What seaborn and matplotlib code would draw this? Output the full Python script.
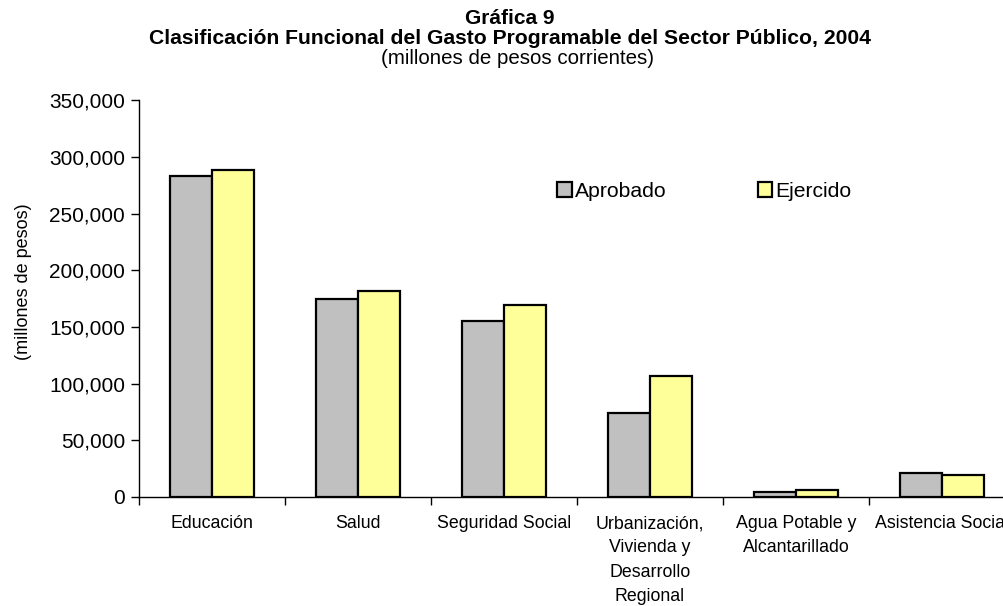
import pandas as pd
import matplotlib
matplotlib.use("Agg")
import matplotlib.pyplot as plt
from matplotlib.ticker import FuncFormatter, FixedLocator
import seaborn as sns

# Data (millones de pesos)
categorias = ["Educación", "Salud", "Seguridad Social",
              "Urbanización,\nVivienda y\nDesarrollo\nRegional",
              "Agua Potable y\nAlcantarillado", "Asistencia Social"]
aprobado = [283000, 175000, 155000, 74000, 4400, 21000]
ejercido = [288500, 182000, 169000, 106500, 6200, 19800]
series = ["Aprobado", "Ejercido"]
y_ticks = [0, 50000, 100000, 150000, 200000, 250000, 300000, 350000]

df = pd.DataFrame({
    "categoria": categorias * 2,
    "serie": [series[0]] * len(categorias) + [series[1]] * len(categorias),
    "monto": aprobado + ejercido,
})

sns.set_theme(style="white", rc={"text.color": "black", "xtick.color": "black",
                                 "ytick.color": "black", "axes.labelcolor": "black"})
plt.rcParams["font.family"] = ["Liberation Sans", "DejaVu Sans"]

fig = plt.figure(figsize=(10.04, 6.06), dpi=100)
ax = fig.add_axes([0.1384, 0.1799, 0.8725, 0.6546])

sns.barplot(data=df, x="categoria", y="monto", hue="serie", order=categorias,
            hue_order=series, palette=["#C0C0C0", "#FFFF99"], width=0.575,
            edgecolor="black", linewidth=1.6, saturation=1, ax=ax)

ax.set_xlim(-0.5, len(categorias) - 0.5)
ax.set_ylim(0, 350000)
ax.yaxis.set_major_locator(FixedLocator(y_ticks))
ax.yaxis.set_major_formatter(FuncFormatter(lambda v, p: f"{v:,.0f}"))
ax.tick_params(axis="y", labelsize=15, length=6, width=1, color="black",
               direction="out", pad=4, left=True)
ax.tick_params(axis="x", which="major", length=0, labelsize=12.8, pad=13)
ax.set_xticks([i + 0.5 for i in range(-1, len(categorias))], minor=True)
ax.tick_params(axis="x", which="minor", length=6, width=1, color="black",
               direction="out", bottom=True)
for lab in ax.get_xticklabels():
    lab.set_linespacing(1.56)
    lab.set_horizontalalignment("center")
ax.set_xlabel("")
ax.set_ylabel("")

for side in ["top", "right"]:
    ax.spines[side].set_visible(False)
for side in ["left", "bottom"]:
    ax.spines[side].set_color("black")
    ax.spines[side].set_linewidth(1)

ax.legend(loc="center left", bbox_to_anchor=(0.468, 0.77), ncol=2, frameon=False,
          fontsize=15.2, handlelength=0.7, handleheight=0.7, handletextpad=0.15,
          columnspacing=4.3, borderaxespad=0)

fig.text(0.508, 1 - 18 / 606, "Gráfica 9", ha="center", va="center",
         fontsize=15, fontweight="bold")
fig.text(0.508, 1 - 38 / 606,
         "Clasificación Funcional del Gasto Programable del Sector Público, 2004",
         ha="center", va="center", fontsize=15.2, fontweight="bold")
fig.text(0.515, 1 - 58 / 606, "(millones de pesos corrientes)", ha="center",
         va="center", fontsize=14.8)
fig.text(24 / 1004, 1 - 282 / 606, "(millones de pesos)", rotation=90,
         ha="center", va="center", fontsize=13)

fig.savefig("out.png", dpi=100)
